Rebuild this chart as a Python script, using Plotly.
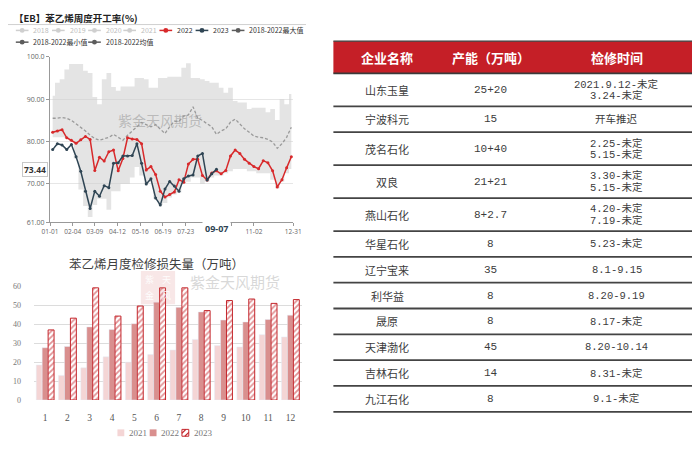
import plotly.graph_objects as go
import pandas as pd

W, H = 700, 451


def X(p):
    return p / W


def Y(p):
    return 1 - p / H


# ---------------- data: weekly operating rate (%) ----------------
week_dates = pd.date_range("2023-01-05", periods=52, freq="7D")

rate_2022 = [82.2, 82.5, 82.8, 80.9, 80.3, 79.6, 80.4, 81.2, 80.5, 73.2,
             76.3, 75.4, 77.6, 78.0, 73.1, 76.0, 80.9, 80.6, 80.5, 79.5,
             73.3, 74.1, 72.2, 68.3, 66.9, 67.5, 68.1, 71.0, 70.4, 74.7,
             75.8, 75.8, 72.0, 70.9, 72.6, 73.1, 72.4, 73.2, 76.6, 78.0,
             77.2, 75.8, 74.9, 74.1, 73.6, 75.5, 75.0, 73.1, 69.3, 71.0,
             73.8, 76.4]

rate_2023 = [78.1, 79.5, 79.2, 78.1, 79.3, 76.4, 73.0, 68.3, 64.2, 68.3,
             67.1, 69.6, 69.1, 74.9, 75.0, 76.6, 76.6, 76.7, 79.5, 74.9,
             70.0, 71.2, 66.7, 65.0, 68.8, 70.6, 69.5, 68.3, 71.2, 71.9,
             72.1, 76.6, 77.2, 70.9, 72.4, 73.44]

max_5y = [90.8, 93.9, 94.7, 97.0, 98.3, 98.3, 98.3, 96.7, 96.2, 90.5,
          88.8, 94.7, 96.2, 92.9, 92.0, 93.0, 93.0, 93.0, 95.0, 95.0,
          94.7, 92.7, 92.7, 95.0, 95.0, 95.3, 95.3, 95.3, 97.4, 98.5,
          95.0, 95.0, 94.7, 94.3, 93.9, 93.9, 92.7, 91.5, 92.7, 89.6,
          89.2, 89.2, 87.7, 88.0, 88.0, 88.0, 86.9, 87.7, 85.1, 90.0,
          88.8, 91.2]

min_5y = [81.0, 81.0, 81.0, 80.8, 80.2, 76.0, 68.7, 64.8, 62.2, 65.0,
          66.5, 66.5, 63.9, 68.3, 68.3, 70.0, 70.0, 71.5, 74.0, 72.0,
          70.0, 70.5, 66.5, 65.0, 65.5, 66.8, 67.5, 68.0, 70.0, 70.5,
          71.5, 71.5, 70.0, 70.5, 71.5, 72.0, 72.0, 72.5, 73.0, 73.5,
          73.5, 73.5, 73.0, 73.0, 72.5, 72.5, 72.5, 71.0, 69.0, 70.5,
          72.5, 73.5]

avg_5y = [85.5, 85.5, 85.7, 85.5, 85.0, 84.2, 83.4, 82.5, 81.5, 80.7,
          80.3, 80.7, 81.0, 81.7, 80.9, 80.3, 81.5, 82.5, 83.5, 84.5,
          84.0, 83.5, 84.0, 83.0, 81.9, 83.5, 84.8, 84.8, 86.0, 86.3,
          88.2, 85.5, 85.0, 84.2, 83.5, 81.7, 82.5, 83.0, 84.6, 85.3,
          84.2, 83.0, 82.2, 81.3, 81.0, 80.9, 80.5, 79.9, 78.4, 79.5,
          81.0, 83.4]

# tick labels; 08-26 and 09-29 sit under the 09-07 pointer label in the reference
xtick_dates = ["2023-01-01", "2023-02-04", "2023-03-09", "2023-04-12",
               "2023-05-16", "2023-06-19", "2023-07-23", "2023-08-26",
               "2023-09-29", "2023-11-02", "2023-12-31"]
hidden_ticks = ["2023-08-26", "2023-09-29"]
xtick_labels = ["" if d in hidden_ticks else d[5:] for d in xtick_dates]
ytick_vals = [61, 70, 80, 90, 100]
ytick_labels = ["61.00", "70.00", "80.00", "90.00", "100.0"]
pointer_date = "2023-09-07"

legend_labels = ["2018", "2019", "2020", "2021", "2022", "2023",
                 "2018-2022最大值", "2018-2022最小值", "2018-2022均值"]

# ---------------- data: monthly maintenance loss (10k t) ----------------
months = [str(m) for m in range(1, 13)]
loss_2021 = [18.5, 13.0, 17.0, 22.8, 20.0, 24.0, 26.4, 32.0, 28.8, 28.0, 34.5, 33.3]
loss_2022 = [27.6, 28.3, 38.6, 37.2, 40.3, 51.6, 48.9, 46.5, 42.2, 41.2, 42.5, 44.8]
loss_2023 = [37.0, 43.2, 59.2, 44.3, 49.6, 59.2, 59.2, 47.2, 52.5, 53.3, 51.0, 53.0]
bar_legend = ["2021", "2022", "2023"]

# ---------------- data: maintenance table ----------------
table_header = ["企业名称", "产能（万吨）", "检修时间"]
companies = ["山东玉皇", "宁波科元", "茂名石化", "双良", "燕山石化", "华星石化",
             "辽宁宝来", "利华益", "晟原", "天津渤化", "吉林石化", "九江石化"]
capacities = ["25+20", "15", "10+40", "21+21", "8+2.7", "8", "35", "8", "8",
              "45", "14", "8"]
periods = ["2021.9.12-未定\n3.24-未定", "开车推迟", "2.25-未定\n5.15-未定",
           "3.30-未定\n5.15-未定", "4.20-未定\n7.19-未定", "5.23-未定",
           "8.1-9.15", "8.20-9.19", "8.17-未定", "8.20-10.14", "8.31-未定",
           "9.1-未定"]

RED = "#d8292b"
NAVY = "#2f4554"
GRAYD = "#5c5c5c"
CJK = "Noto Sans CJK SC"
SERIF = "Liberation Serif, Noto Sans CJK SC"
MONO = "Liberation Mono, Noto Sans CJK SC"

fig = go.Figure()

# ---- top chart ----
fig.add_trace(go.Scatter(x=week_dates, y=min_5y, mode="lines",
                         line=dict(width=0, shape="hvh"), hoverinfo="skip",
                         xaxis="x", yaxis="y", showlegend=False))
fig.add_trace(go.Scatter(x=week_dates, y=max_5y, mode="lines",
                         line=dict(width=0, shape="hvh"), fill="tonexty",
                         fillcolor="rgba(205,205,205,0.55)", hoverinfo="skip",
                         xaxis="x", yaxis="y", showlegend=False))
fig.add_trace(go.Scatter(x=week_dates, y=avg_5y, mode="lines",
                         line=dict(color="#9a9a9a", width=1.3, dash="3px,2px"),
                         xaxis="x", yaxis="y", showlegend=False))
fig.add_trace(go.Scatter(x=week_dates, y=rate_2022, mode="lines+markers",
                         line=dict(color=RED, width=1.5),
                         marker=dict(size=3, color=RED),
                         xaxis="x", yaxis="y", showlegend=False))
fig.add_trace(go.Scatter(x=week_dates[:len(rate_2023)], y=rate_2023,
                         mode="lines+markers",
                         line=dict(color=NAVY, width=1.5),
                         marker=dict(size=3, color=NAVY),
                         xaxis="x", yaxis="y", showlegend=False))

# ---- bottom chart ----
fig.add_trace(go.Bar(x=months, y=loss_2021, marker=dict(color="#f4d5d5"),
                     xaxis="x2", yaxis="y2", showlegend=False))
fig.add_trace(go.Bar(x=months, y=loss_2022, marker=dict(color="#d98f8e"),
                     xaxis="x2", yaxis="y2", showlegend=False))
fig.add_trace(go.Bar(x=months, y=loss_2023,
                     marker=dict(color="white",
                                 line=dict(color="#c4262c", width=1),
                                 pattern=dict(shape="/", fgcolor="#c4262c",
                                              bgcolor="white", size=4,
                                              solidity=0.45)),
                     xaxis="x2", yaxis="y2", showlegend=False))

shapes = []
annotations = []


def ann(text, x, y, size, color, family=CJK, xanchor="center", xref="paper",
        yref="paper", **kw):
    d = dict(text=text, x=x, y=y, xref=xref, yref=yref, xanchor=xanchor,
             yanchor="middle", showarrow=False,
             font=dict(family=family, size=size, color=color))
    d.update(kw)
    annotations.append(d)


def hline(x0, x1, y, color, width):
    shapes.append(dict(type="line", xref="paper", yref="paper", x0=X(x0), x1=X(x1),
                       y0=Y(y), y1=Y(y), line=dict(color=color, width=width)))


# title + separator
ann("<b>【EB】苯乙烯周度开工率(%)</b>", X(4), Y(13), 9.5, "#222", xanchor="left")
hline(0, 305, 20, "#d0d0d0", 1)

# top legend (manual)
leg_colors = ["#cfcfcf"] * 4 + [RED, NAVY, GRAYD, GRAYD, GRAYD]
leg_text_colors = ["#bdbdbd"] * 4 + ["#333"] * 5
leg_pos = [(8, 26), (45, 26), (82, 26), (118, 26), (155, 26), (192, 26),
           (229, 26), (8, 38), (82, 38)]
for lab, c, tc, (lx, ly) in zip(legend_labels, leg_colors, leg_text_colors, leg_pos):
    hline(lx, lx + 13, ly, c, 1.5)
    shapes.append(dict(type="circle", xref="paper", yref="paper",
                       x0=X(lx + 4), x1=X(lx + 9), y0=Y(ly + 2.5), y1=Y(ly - 2.5),
                       fillcolor=c, line=dict(color=c, width=0)))
    ann(lab, X(lx + 16), Y(ly), 7, tc, xanchor="left")

# watermark top
ann("紫金天风期货", X(156), Y(118), 14, "rgba(150,150,150,0.55)")

# axis pointer labels
ann("<b>%.2f</b>" % rate_2023[-1], X(28), rate_2023[-1], 8.5, "#333",
    family="Open Sans", yref="y", bgcolor="white", bordercolor="#c8c8c8",
    borderwidth=1, borderpad=1)
ann("<b>%s</b>" % pointer_date[5:], pointer_date, Y(229), 9, NAVY,
    family="Open Sans", xref="x", bgcolor="white", borderpad=2)

# bottom chart title & watermark (seal + company name)
ann("苯乙烯月度检修损失量（万吨）", X(152), Y(264), 12.5, "#404040")
shapes.append(dict(type="rect", xref="paper", yref="paper", x0=X(136), x1=X(171),
                   y0=Y(306), y1=Y(272), fillcolor="rgba(215,120,120,0.18)",
                   line=dict(width=0)))
for ch, cx, cy in [("紫", 145, 281), ("天", 162, 281), ("金", 145, 297), ("风", 162, 297)]:
    ann(ch, X(cx), Y(cy), 9, "rgba(255,255,255,0.9)")
ann("紫金天风期货", X(232), Y(283), 15, "rgba(190,190,190,0.6)")

# bottom legend
bl_pos = [112, 145, 178]
shapes.append(dict(type="rect", xref="paper", yref="paper", x0=X(112), x1=X(119),
                   y0=Y(441), y1=Y(434), fillcolor="#f4d5d5", line=dict(width=0)))
shapes.append(dict(type="rect", xref="paper", yref="paper", x0=X(145), x1=X(152),
                   y0=Y(441), y1=Y(434), fillcolor="#d98f8e", line=dict(width=0)))
shapes.append(dict(type="rect", xref="paper", yref="paper", x0=X(178), x1=X(185),
                   y0=Y(441), y1=Y(434), fillcolor="white",
                   line=dict(color="#c4262c", width=1)))
shapes.append(dict(type="path", xref="paper", yref="paper",
                   path="M %f %f L %f %f M %f %f L %f %f" % (
                       X(178), Y(438), X(182), Y(434), X(181), Y(441), X(185), Y(437)),
                   line=dict(color="#c4262c", width=1.2)))
for bx, lab in zip(bl_pos, bar_legend):
    ann(lab, X(bx + 10), Y(437.5), 9, "#777", family=SERIF, xanchor="left")

# ---- table ----
TL, TR = 333, 700
col_x = [388, 494, 623]
h_top, h_bot = 37, 70
shapes.append(dict(type="rect", xref="paper", yref="paper", x0=X(TL), x1=X(TR),
                   y0=Y(h_bot), y1=Y(h_top), fillcolor="#c51f27",
                   line=dict(width=0)))
hline(TL, TR, h_top, "#3a3a3a", 1.2)
hline(TL, TR, h_bot, "#3a3a3a", 1.8)
for cx, lab in zip(col_x, table_header):
    ann("<b>%s</b>" % lab, X(cx), Y((h_top + h_bot) / 2), 13, "white")

single_h, extra_h, line_gap = 26.4, 7.3, 11.6
ycur = h_bot
for comp, cap, per in zip(companies, capacities, periods):
    lines = per.split("\n")
    h = single_h + extra_h * (len(lines) - 1)
    yc = ycur + h / 2
    ann(comp, X(col_x[0]), Y(yc), 11, "#3c3c3c")
    ann(cap, X(col_x[1]), Y(yc), 11, "#3c3c3c", family=MONO)
    for i, ln in enumerate(lines):
        ly = yc + (i - (len(lines) - 1) / 2) * line_gap
        ann(ln, X(col_x[2]), Y(ly), 10.5, "#3c3c3c", family=MONO)
    ycur += h
    hline(TL, TR, ycur, "#444", 1.8)

fig.update_layout(
    width=W, height=H, autosize=False,
    margin=dict(l=0, r=0, t=0, b=0),
    paper_bgcolor="white", plot_bgcolor="white",
    font=dict(family=CJK),
    barmode="group", bargap=0.2, bargroupgap=0,
    showlegend=False,
    shapes=shapes, annotations=annotations,
    xaxis=dict(domain=[X(43), X(292)], anchor="y", type="date",
               range=["2023-01-01", "2023-12-31"],
               tickmode="array", tickvals=xtick_dates, ticktext=xtick_labels,
               tickfont=dict(family="Open Sans", size=6.5, color="#666"),
               showline=True, linecolor="#999", linewidth=1,
               ticks="outside", ticklen=3, tickcolor="#999",
               showgrid=False, zeroline=False),
    yaxis=dict(domain=[Y(222), Y(53)], anchor="x", range=[61, 100],
               tickmode="array", tickvals=ytick_vals, ticktext=ytick_labels,
               tickfont=dict(family="Open Sans", size=7, color="#666"),
               showline=True, linecolor="#999", linewidth=1,
               ticks="outside", ticklen=3, tickcolor="#999",
               gridcolor="#e6e6e6", zeroline=False),
    xaxis2=dict(domain=[X(26.6), X(300.4)], anchor="y2", type="category",
                tickfont=dict(family=SERIF, size=9.5, color="#555"),
                showline=False, ticks="", showgrid=False, zeroline=False,
                ticklabelstandoff=10),
    yaxis2=dict(domain=[Y(404), Y(287.7)], anchor="x2", range=[0, 60], dtick=10,
                tickfont=dict(family=SERIF, size=8, color="#777"),
                gridcolor="#dcdcdc", showline=False, zeroline=False,
                ticklabelstandoff=12),
)

fig.write_html("out.html", config={"displayModeBar": False, "staticPlot": True},
               post_script="document.body.style.margin='0';")
